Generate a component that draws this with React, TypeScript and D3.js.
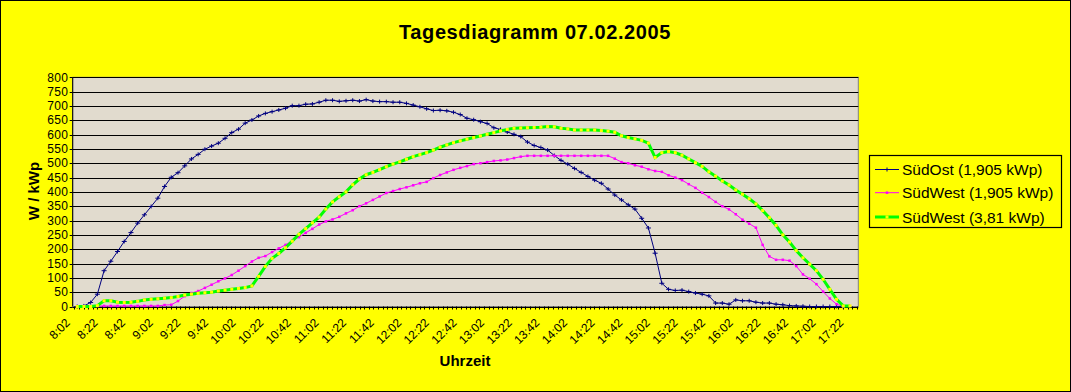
import React from 'react';
import * as d3 from 'd3';

// Tagesdiagramm 07.02.2005 - values every 5 minutes starting 8:05 (W / kWp)
const suedOst = [
  0, 2, 14, 43, 125, 158, 192, 227, 258, 291, 320, 349, 378, 419, 451, 467, 491, 515, 531, 549,
  560, 570, 587, 607, 619, 640, 651, 665, 674, 680, 686, 692, 701, 701, 706, 707, 713, 720, 720, 716,
  718, 720, 717, 722, 717, 715, 715, 713, 713, 709, 703, 697, 690, 684, 685, 683, 678, 670, 657, 652,
  645, 639, 624, 618, 609, 601, 593, 574, 562, 555, 546, 527, 510, 497, 482, 468, 454, 441, 430, 410,
  389, 372, 355, 340, 308, 274, 186, 81, 60, 56, 57, 52, 47, 43, 37, 12, 12, 8, 23, 20,
  20, 15, 12, 12, 8, 6, 3, 2, 1, 0, 0, 0, 0, 0, 0, null,
];

const suedWest = [
  0, 0, 0, 2, 2, 2, 2, 2, 2, 2, 2, 2, 2, 5, 6, 19, 36, 47, 54, 65,
  76, 88, 98, 110, 125, 141, 157, 170, 176, 190, 203, 215, 230, 242, 257, 271, 286, 297, 304, 313,
  325, 336, 350, 360, 372, 384, 396, 403, 410, 416, 423, 430, 435, 448, 459, 468, 477, 484, 490, 497,
  500, 504, 508, 510, 513, 518, 523, 526, 526, 526, 526, 526, 526, 526, 526, 526, 526, 526, 526, 526,
  516, 504, 500, 493, 488, 479, 473, 470, 458, 450, 441, 427, 414, 397, 382, 365, 350, 339, 322, 303,
  289, 275, 215, 175, 163, 163, 160, 141, 112, 97, 78, 52, 28, 8, 0, null,
];

const suedWest2 = [
  0, 0, 0, 3, 20, 20, 15, 14, 15, 18, 23, 25, 27, 29, 31, 35, 40, 43, 46, 48,
  50, 54, 57, 60, 63, 66, 72, 105, 140, 168, 185, 205, 228, 252, 272, 292, 312, 340, 365, 383,
  400, 425, 445, 460, 468, 478, 488, 497, 505, 514, 523, 530, 537, 546, 556, 564, 572, 578, 584, 590,
  595, 601, 607, 613, 618, 622, 623, 624, 625, 626, 628, 627, 622, 620, 616, 616, 616, 616, 614, 612,
  608, 596, 590, 585, 580, 570, 520, 537, 541, 537, 528, 515, 502, 489, 470, 455, 438, 424, 407, 392,
  376, 358, 335, 310, 283, 250, 225, 195, 170, 148, 125, 95, 60, 25, 2, 2,
];

const seriesNames = ['SüdOst (1,905 kWp)', 'SüdWest (1,905 kWp)', 'SüdWest (3,81 kWp)'];

// x axis labels, every 20 minutes
const tickLabels = [
  '8:02', '8:22', '8:42', '9:02', '9:22', '9:42', '10:02', '10:22', '10:42', '11:02',
  '11:22', '11:42', '12:02', '12:22', '12:42', '13:02', '13:22', '13:42', '14:02', '14:22',
  '14:42', '15:02', '15:22', '15:42', '16:02', '16:22', '16:42', '17:02', '17:22',
];

const yTicks = d3.range(0, 801, 50);

const W = 1071;
const H = 392;
const plot = { left: 72.7, right: 858.3, top: 77.3, bottom: 306.5 };
const font = 'Liberation Sans, Arial, sans-serif';

const App = () => {
  const y = d3.scaleLinear().domain([0, 800]).range([plot.bottom, plot.top]);

  // data points, evenly spaced
  const x = d3.scaleLinear().domain([0, suedOst.length - 1]).range([77.2, 850]);

  // label axis (category ticks, 6 per label)
  const xl = d3.scaleLinear().domain([0, tickLabels.length - 1]).range([74.3, 847.6]);
  const minorTicks = d3.range(0, (plot.right - 74.3) / ((847.6 - 74.3) / 28 / 6)).map(i => i / 6);

  const line = d3.line<number | null>()
    .defined(d => d !== null)
    .x((d, i) => x(i))
    .y(d => y(d as number));

  const pts = (arr: (number | null)[]) =>
    arr.map((v, i) => ({ v, i })).filter(p => p.v !== null) as { v: number; i: number }[];

  const legendRows = [
    { name: seriesNames[0], cy: 169.5 },
    { name: seriesNames[1], cy: 192.7 },
    { name: seriesNames[2], cy: 217 },
  ];

  return (
    <div style={{ position: 'absolute', left: 0, top: 0 }}>
      <svg width={W} height={H} style={{ display: 'block' }}>
        <rect x={0.5} y={0.5} width={W - 1} height={H - 1} fill="#ffff00" stroke="#000" />

        <text x={535} y={39} textAnchor="middle" fontFamily={font} fontWeight="bold" fontSize={20} letterSpacing={0.6}>
          Tagesdiagramm 07.02.2005
        </text>

        {/* plot area */}
        <rect x={plot.left} y={plot.top} width={plot.right - plot.left} height={plot.bottom - plot.top}
          fill="#e1dbce" stroke="#808080" />

        {/* gridlines */}
        {yTicks.filter(t => t > 0).map(t => (
          <line key={'g' + t} x1={plot.left} x2={plot.right} y1={Math.round(y(t)) + 0.5} y2={Math.round(y(t)) + 0.5}
            stroke="#000" strokeWidth={1} />
        ))}

        {/* y axis */}
        <line x1={plot.left} x2={plot.left} y1={plot.top} y2={plot.bottom} stroke="#000" />
        {yTicks.map(t => (
          <g key={'y' + t}>
            <line x1={plot.left - 3} x2={plot.left} y1={Math.round(y(t)) + 0.5} y2={Math.round(y(t)) + 0.5} stroke="#000" />
            <text x={plot.left - 4.5} y={y(t) + 4.2} textAnchor="end" fontFamily={font} fontSize={12} letterSpacing={0.3}>
              {t}
            </text>
          </g>
        ))}

        {/* x axis */}
        <line x1={plot.left} x2={plot.right} y1={Math.round(plot.bottom) + 0.5} y2={Math.round(plot.bottom) + 0.5} stroke="#000" />
        {minorTicks.map(i => (
          <line key={'t' + i} x1={Math.round(xl(i)) + 0.5} x2={Math.round(xl(i)) + 0.5}
            y1={plot.bottom} y2={plot.bottom + 3} stroke="#000" />
        ))}
        {tickLabels.map((l, i) => (
          <text key={l} transform={`translate(${xl(i) - 3.5},${plot.bottom + 17}) rotate(-45)`}
            textAnchor="end" fontFamily={font} fontSize={12}>
            {l}
          </text>
        ))}

        <text x={465} y={366} textAnchor="middle" fontFamily={font} fontWeight="bold" fontSize={15}>
          Uhrzeit
        </text>
        <text transform="translate(38.5,191) rotate(-90)" textAnchor="middle" fontFamily={font} fontWeight="bold" fontSize={15}>
          W / kWp
        </text>

        {/* series */}
        <path d={line(suedOst) || ''} fill="none" stroke="#000080" strokeWidth={1} />
        {pts(suedOst).map(p => (
          <path key={'b' + p.i} d={`M${x(p.i) - 2.5},${y(p.v)}H${x(p.i) + 2.5}M${x(p.i)},${y(p.v) - 2}V${y(p.v) + 2}`}
            stroke="#000080" strokeWidth={1} />
        ))}

        <path d={line(suedWest) || ''} fill="none" stroke="#ff00ff" strokeWidth={1} />
        {pts(suedWest).map(p => (
          <rect key={'p' + p.i} x={x(p.i) - 1.25} y={y(p.v) - 1.25} width={2.5} height={2.5} fill="#ff00ff" />
        ))}

        <path d={line(suedWest2) || ''} fill="none" stroke="#00ff00" strokeWidth={3} />
        {pts(suedWest2).map(p => (
          <rect key={'w' + p.i} x={x(p.i) - 1.5} y={y(p.v) - 1.5} width={3} height={3} fill="#ffff00" />
        ))}

        {/* legend */}
        <rect x={869.5} y={155.5} width={192} height={72} fill="#ffff00" stroke="#000" strokeWidth={1.2} />
        {legendRows.map((r, i) => (
          <g key={r.name}>
            <line x1={875} x2={899} y1={r.cy} y2={r.cy}
              stroke={['#000080', '#ff00ff', '#00ff00'][i]} strokeWidth={i === 2 ? 3 : 1} />
            {i === 0 && <path d={`M887,${r.cy - 2}V${r.cy + 2}`} stroke="#000080" />}
            {i === 1 && <rect x={885.75} y={r.cy - 1.25} width={2.5} height={2.5} fill="#ff00ff" />}
            {i === 2 && <rect x={885.5} y={r.cy - 1.5} width={3} height={3} fill="#ffff00" />}
            <text x={902} y={r.cy + 5.5} fontFamily={font} fontSize={15.5}>{r.name}</text>
          </g>
        ))}
      </svg>
    </div>
  );
};

export default App;
